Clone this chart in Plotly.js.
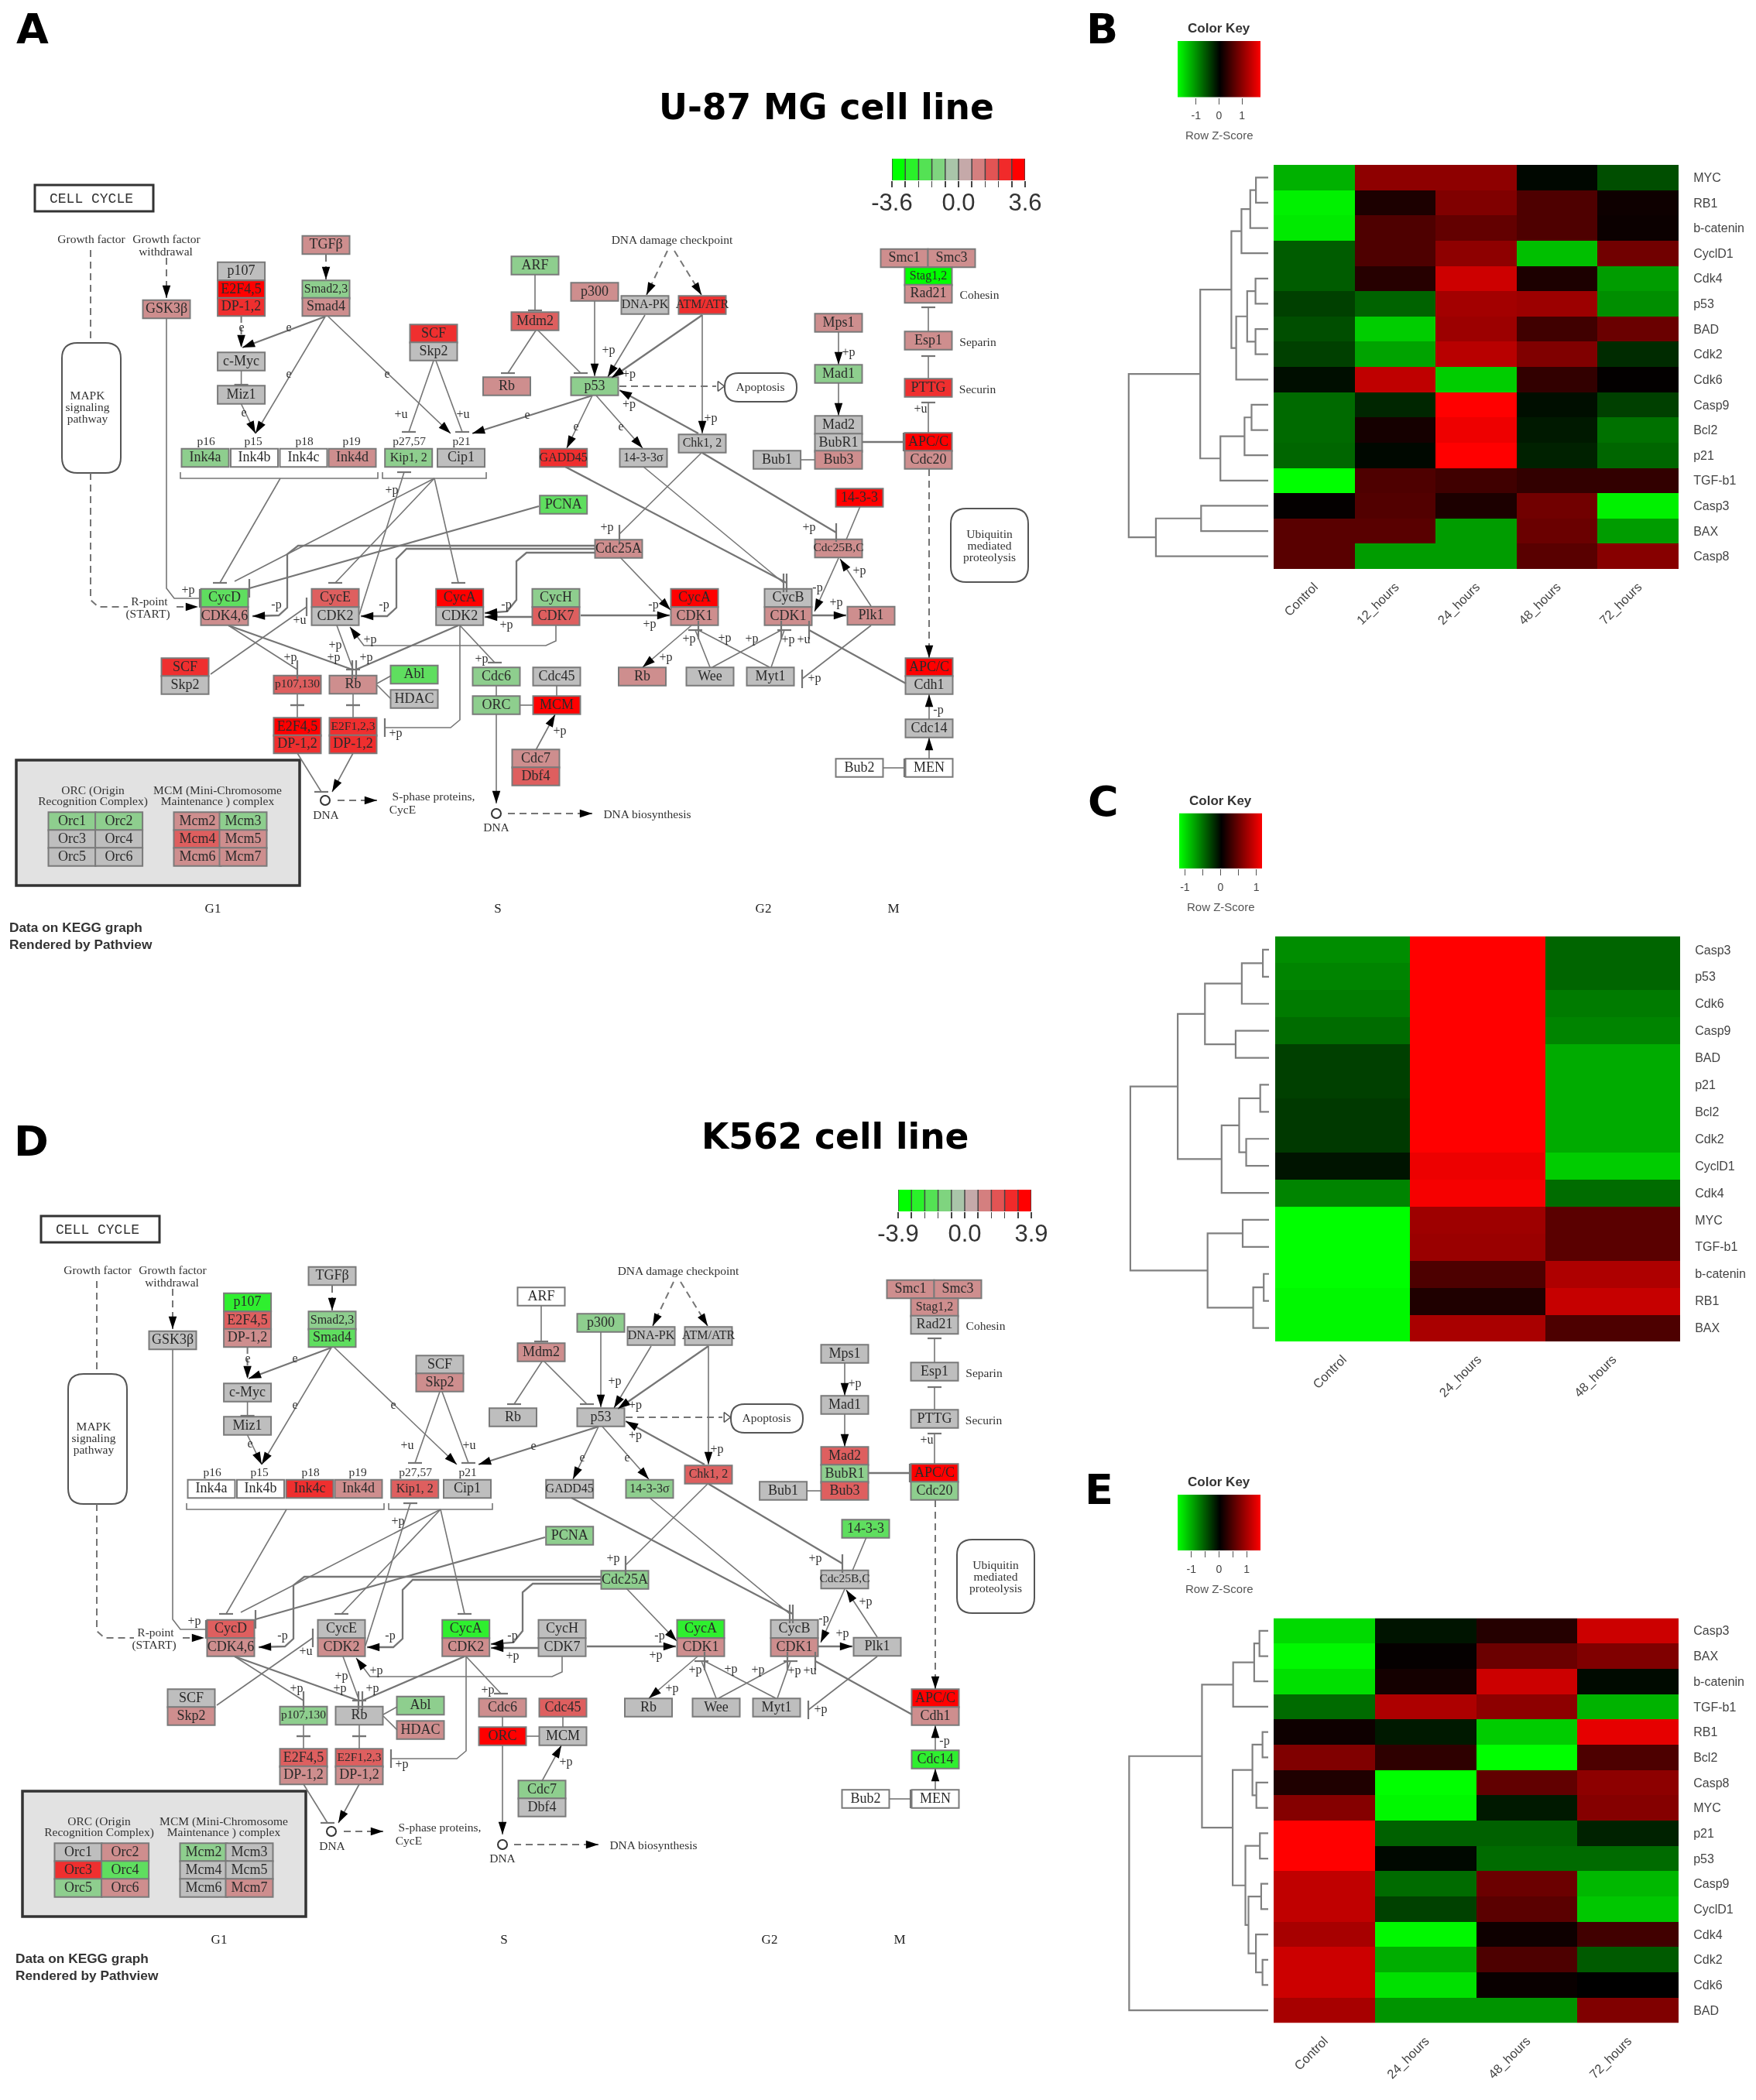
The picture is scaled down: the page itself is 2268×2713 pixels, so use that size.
<!DOCTYPE html>
<html><head><meta charset="utf-8">
<script src="https://cdn.plot.ly/plotly-3.0.1.min.js"></script>
<style>html,body{margin:0;padding:0;background:#fff}#plot{width:2268px;height:2713px;filter:blur(0.7px)}</style>
</head><body><div id="plot"></div>
<script>
/* ---------- heatmap data (row z-scores) ---------- */
const colsB=["Control","12_hours","24_hours","48_hours","72_hours"];
const rowsB=["MYC","RB1","b-catenin","CyclD1","Cdk4","p53","BAD","Cdk2","Cdk6","Casp9","Bcl2","p21","TGF-b1","Casp3","BAX","Casp8"];
const zB=[[-1.25,1.0,1.0,-0.05,-0.55],[-1.7,0.2,0.9,0.55,0.1],[-1.65,0.55,0.7,0.55,0.08],[-0.65,0.55,1.0,-1.35,0.8],
[-0.65,0.27,1.45,0.2,-1.1],[-0.45,-0.7,1.15,1.1,-1.0],[-0.55,-1.45,1.1,0.45,0.75],[-0.45,-1.15,1.3,0.9,-0.3],
[-0.1,1.35,-1.45,0.35,0.02],[-0.75,-0.27,1.8,-0.1,-0.45],[-0.75,0.15,1.68,-0.18,-0.8],[-0.72,-0.06,1.8,-0.23,-0.72],
[-1.8,0.55,0.45,0.35,0.35],[0.03,0.58,0.2,0.8,-1.7],[0.63,0.63,-1.1,0.75,-1.1],[0.63,-1.1,-1.1,0.63,0.95]];
const treeB=[[-1,-2,28],[1,-3,41],[2,-4,61],[-5,-6,29],[-7,-8,29],[4,5,48],[6,-9,73],[3,7,84],[-10,-11,38],[9,-12,54],[10,-13,109],[8,11,155],[-14,-15,153],[13,-16,256],[12,14,318]];

const colsC=["Control","24_hours","48_hours"];
const rowsC=["Casp3","p53","Cdk6","Casp9","BAD","p21","Bcl2","Cdk2","CyclD1","Cdk4","MYC","TGF-b1","b-catenin","RB1","BAX"];
const zC=[[-0.64,1.16,-0.46],[-0.6,1.16,-0.46],[-0.56,1.16,-0.56],[-0.49,1.16,-0.6],[-0.29,1.16,-0.78],[-0.29,1.16,-0.78],[-0.26,1.16,-0.78],[-0.26,1.16,-0.78],
[-0.09,1.08,-0.93],[-0.6,1.12,-0.49],[-1.16,0.72,0.41],[-1.16,0.7,0.41],[-1.16,0.35,0.79],[-1.13,0.14,0.9],[-1.13,0.77,0.35]];
const treeC=[[-1,-2,14],[1,-3,62],[-4,-5,76],[2,3,146],[-6,-7,20],[-8,-9,52],[5,6,68],[7,-10,108],[4,8,208],[-11,-12,60],[-13,-14,12],[11,-15,36],[10,12,140],[9,13,316]];

const colsE=["Control","24_hours","48_hours","72_hours"];
const rowsE=["Casp3","BAX","b-catenin","TGF-b1","RB1","Bcl2","Casp8","MYC","p21","p53","Casp9","CyclD1","Cdk4","Cdk2","Cdk6","BAD"];
const zE=[[-1.28,-0.12,0.22,1.2],[-1.46,0.03,0.63,0.75],[-1.32,0.12,1.2,-0.06],[-0.63,1.02,0.83,-1.05],[0.08,-0.15,-1.2,1.35],[0.75,0.27,-1.5,0.45],
[0.18,-1.5,0.57,0.83],[0.78,-1.46,-0.15,0.78],[1.5,-0.57,-0.57,-0.2],[1.5,-0.05,-0.63,-0.63],[1.13,-0.63,0.63,-1.08],[1.13,-0.38,0.53,-1.17],
[0.98,-1.46,0.08,0.38],[1.2,-1.02,0.45,-0.53],[1.2,-1.32,0.05,0],[0.98,-0.87,-0.87,0.75]];
const treeE=[[-1,-2,20],[1,-3,32],[2,-4,80],[-5,-6,13],[-7,-8,27],[4,5,36],[-9,-10,19],[-11,-12,16],[-14,-15,13],[-13,9,28],[8,10,45],[7,11,52],[6,12,81],[3,13,151],[14,-16,317]];

/* ---------- KEGG cell-cycle graph: node table, shared by panels A and D ---------- */
const nodeNames=["TGFβ","p107","E2F4,5","DP-1,2","Smad2,3","Smad4","GSK3β","ARF","p300","DNA-PK","ATM/ATR","Mdm2","SCF","Skp2","c-Myc","Miz1","Rb","p53","Mps1","Mad1","Mad2","BubR1","Bub3","Bub1","Smc1","Smc3","Stag1,2","Rad21","Esp1","PTTG","APC/C","Cdc20","Ink4a","Ink4b","Ink4c","Ink4d","Kip1, 2","Cip1","GADD45","14-3-3σ","Chk1, 2","PCNA","14-3-3","Cdc25A","Cdc25B,C","CycD","CDK4,6","CycE","CDK2","CycA","CDK2","CycH","CDK7","CycA","CDK1","CycB","CDK1","Plk1","SCF","Skp2","p107,130","Rb","Abl","HDAC","Cdc6","Cdc45","ORC","MCM","Rb","Wee","Myt1","APC/C","Cdh1","E2F4,5","DP-1,2","E2F1,2,3","DP-1,2","Cdc14","Cdc7","Dbf4","Bub2","MEN",
"Orc1","Orc2","Orc3","Orc4","Orc5","Orc6","Mcm2","Mcm3","Mcm4","Mcm5","Mcm6","Mcm7"];
const nodeX=[421,311.6,311.6,311.6,421,421,215,691,768,833,907,691,560,560,311.6,311.6,654.5,768,1083,1083,1083,1083,1083,1003.6,1168,1229,1199,1199,1199,1199,1199,1199,265,328.5,392,455,527.7,595.5,727.7,831,907,727.7,1110,799,1083,290,290,433,433,593.7,593.7,718,718,897,897,1018,1018,1125,239,239,384,456,535,535,641,719,641,719,829.5,917,995,1200,1200,384,384,456,456,1200,692,692,1110,1200,
93,153.6,93,153.6,93,153.6,255,314,255,314,255,314];
const nodeY=[316.5,350.5,374,396.5,374,396.5,399.5,343,377,394,394,415,431,454,467,510,499,499,417,483,549,572,594,594,333.5,333.5,357,379.5,440,501,571,594,591.5,591.5,591.5,591.5,591.5,591.5,591.5,591.5,573,652,643,709,708.5,772.5,796,772.5,796,772.5,796,772.5,796,772.5,796,772.5,796,795.5,862,885,884.5,884.5,871.5,903,874,874,911,911,874,874,874,862,885,939,961.5,939,961.5,941,980,1003,992,992,
1061,1061,1084,1084,1107,1107,1061,1061,1084,1084,1107,1107];
/* expression level of every node: -4 bright green ... 0 grey ... 4 bright red, null = no data (white) */
const levelsA=[1,0,4,3,-1,1,1,-1,1,0,3,2,3,0,0,0,1,-1,1,-1,0,0,1,0,1,1,-4,1,1,3,4,1,-1,null,null,1,-1,0,3,0,0,-2,4,1,1,-2,1,2,0,4,0,-1,2,4,1,0,1,1,3,0,2,1,-2,0,-1,0,-1,4,1,0,0,4,0,4,3,3,3,0,1,2,null,null,
-1,-1,0,0,0,0,1,-1,2,1,1,1];
const levelsD=[0,-3,2,1,-1,-2,0,null,-1,0,0,1,0,1,0,0,0,0,0,0,2,-1,2,0,1,1,1,0,0,0,4,-1,null,null,3,1,2,0,0,-1,2,-1,-2,-1,0,2,1,0,1,-3,1,0,0,-3,1,0,1,0,0,1,-1,0,-1,1,1,2,4,0,0,0,0,4,1,2,1,2,1,-3,-1,0,null,null,
0,1,3,-2,-1,1,-1,0,0,0,0,1];
const levelColors={"-4":"#00FF00","-3":"#2FEF2F","-2":"#5FDE5F","-1":"#8ECE8E","0":"#BEBEBE","1":"#CE8E8E","2":"#DE5F5F","3":"#EF2F2F","4":"#FF0000"};

/* labels on the graph */
const edgeLabels=["+p","+p","+p","+p","+p","+u","+u","+p","+p","+p","+u","+p","-p","+u","-p","-p","+p","+p","+p","+p","+p","+p","+p","+p","-p","+p","+p","-p","+p","+p","+p","+p","+p","+u","+p","+p","-p","+p","e","e","e","e","e","e","e","e"];
const edgeLabelX=[786,812.5,812.5,918,1096,518,598,506,784,1045,1189,243,357,387,496,654,654,478,433,431,375,473,622,511,844,839,1080,1056,1110,890,936,971,1018,1038,860,1052,1212,723,373,373,500,312,315,681,744,802];
const edgeLabelY=[453,484,523,541,456,536,536,634,682,682,529,763,782,802,782,782,808,827,834,850,850,850,852,948,782,807,778.5,760,738,826,825,826,827,827,850,877,918,945,424,484,484,424,534,537,552,552];
const noteTexts=["Growth factor","Growth factor","withdrawal","DNA damage checkpoint","Cohesin","Separin","Securin","Apoptosis","MAPK","signaling","pathway","Ubiquitin","mediated","proteolysis","R-point","(START)","p16","p15","p18","p19","p27,57","p21","ORC (Origin","Recognition Complex)","MCM (Mini-Chromosome","Maintenance ) complex","DNA","DNA","S-phase proteins,","CycE","DNA biosynthesis"];
const noteX=[118,215,214,868,1265,1263,1262.5,982,113,113,113,1278,1278,1278,193,191,266,327,393,454,528.6,596,120,120,281,281,421,641,560,520,836];
const noteY=[310,310,326,311,382,443,504,501,512,527,542,691,706,721,778.5,794,571,571,571,571,571,571,1022,1036,1022,1036,1054,1070,1030,1047,1053];
const phaseNames=["G1","S","G2","M"];
const phaseX=[275,643,986,1154];

/* edges of the graph (x0,y0,x1,y1,...) */
const thinArrows=[[768,389,768,486],[833,407,785,487],[907,407,907,560],[765,511,732,579],[770,511,830,579],[420,409,330,560],[424,409,582,560],[1083,429,1083,471],[1083,495,1083,537],[801,720,866,788],[1083,721,1052,790],[1125,783,1085,722],[893,808,830,862],[456,973,429,1023],[641,923,641,1038],[692,969,717,923],[1200,929,1200,897],[1200,980,1200,953],[718,808,718,828,705,834,470,834,452,810],[311.6,522,330,560]];
const thickArrows=[[907,407,790,488],[902,560,800,504],[765,511,610,560],[420,409,313,449],[768,705,385,705,371,716,371,785,360,795,326,796],[768,709,525,709,512,722,512,785,500,796,466,796],[768,714,680,714,667,725,667,775,655,790,626,792],[688,797,626,797],[750,795,865,795],[1049,795,1093,795]];
const dashArrows=[[215,333,215,385],[228,784,256,784],[421,329,421,361],[862,324,835,381],[871,324,906,381],[311.6,408,311.6,449],[1200,606,1200,850],[436,1034,487,1034],[656,1051,765,1051]];
const thinBars=[[691,355,691,401],[692,427,656,482],[695,427,750,482],[311.6,479,311.6,497],[560,466,528,558],[563,466,597,558],[1199,428,1199,397],[1199,489,1199,460],[1199,559,1199,520],[362,618,284,753],[561,618,433,753],[561,618,592,753],[464,794,522,610],[831,603,1012,753],[906,585,800,690],[295,808,384,865],[435,808,456,865],[594,808,639,856],[594,808,594,930,582,940,497,940],[272,871,396,784],[384,897,384,911],[384,927,384,911],[456,897,456,911],[456,927,456,911],[384,973,415,1023],[1141,992,1168,992],[917,862,898,814],[994,862,902,814],[920,862,1009,814],[996,862,1013,814],[1125,808,1036,877],[215,411,215,760,225,773,258,773]];
const thickBars=[[1114,571,1167,571],[696,654,322,760],[730,603,1016,753],[907,585,1080,688],[295,808,455,865],[592,808,460,865],[1170,883,1045,814]];
const thinLines=[[1111,654,1093,697],[487,883,505,873],[487,885,505,903],[1034,594,1052,594],[641,886,641,899],[672,911,688,911],[719,886,719,899],[561,618,303,751]];
const dashLines=[[117,323,117,443],[117,611,117,775,127,784,165,784],[800,499,925,499]];
const brackets=[[233,610,233,618,488,618,488,610],[494,610,494,618,628,618,628,610]];

/* ---------- colour keys ---------- */
const legendBinsA=[-3.24,-2.52,-1.8,-1.08,-0.36,0.36,1.08,1.8,2.52,3.24];
const legendEdgesA=[-3.6,-2.88,-2.16,-1.44,-0.72,0,0.72,1.44,2.16,2.88,3.6];
const legendLabelsA=["-3.6","","","","","0.0","","","","","3.6"];
const legendBinsD=[-3.51,-2.73,-1.95,-1.17,-0.39,0.39,1.17,1.95,2.73,3.51];
const legendEdgesD=[-3.9,-3.12,-2.34,-1.56,-0.78,0,0.78,1.56,2.34,3.12,3.9];
const legendLabelsD=["-3.9","","","","","0.0","","","","","3.9"];
const keyStopsB=[-1.8,0,1.8], keyTicksB=[-1,0,1], keyTickTextB=["-1","0","1"];
const keyStopsC=[-1.16,0,1.16], keyTicksC=[-1,-0.5,0,0.5,1], keyTickTextC=["-1","","0","","1"];
const keyStopsE=[-1.5,0,1.5], keyTicksE=[-1,-0.5,0,0.5,1], keyTickTextE=["-1","","0","","1"];

/* ---------- page frame ---------- */
const W=2268,H=2713;
const GM=[[0,"#00FF00"],[0.5,"#000000"],[1,"#FF0000"]];
const GGR=[[0,"#00FF00"],[0.5,"#BEBEBE"],[1,"#FF0000"]];
const SERIF="Liberation Serif", SANS="Liberation Sans", BOLD="DejaVu Sans";
const data=[],shapes=[],annotations=[];
const layout={width:W,height:H,margin:{l:0,r:0,t:0,b:0},paper_bgcolor:"#fff",plot_bgcolor:"rgba(0,0,0,0)",showlegend:false,shapes,annotations};
let axisCount=0;
function axes(x0,x1,top,bottom,xo,yo){
  axisCount++;const n=axisCount===1?"":axisCount;
  const hidden={visible:false,fixedrange:true,showgrid:false,zeroline:false};
  layout["xaxis"+n]=Object.assign({},hidden,{domain:[x0/W,x1/W],anchor:"y"+n},xo);
  layout["yaxis"+n]=Object.assign({},hidden,{domain:[1-bottom/H,1-top/H],anchor:"x"+n},yo);
  return {x:"x"+n,y:"y"+n};
}
function note(text,x,y,size,opts){
  annotations.push(Object.assign({text,x:x/W,y:1-y/H,xref:"paper",yref:"paper",showarrow:false,xanchor:"center",yanchor:"middle",
    font:{family:SANS,size,color:"#333"}},opts||{}));
}
/* long names are squeezed into their box, as in the KEGG graph */
const labelSize=nodeNames.map(n=>n.length>=8?15.5:n.length===7?16:n==="GADD45"||n==="DNA-PK"?16:18);

/* ---------- pathway panel ---------- */
function pathway(ox,oy,levels,legendBins,legendEdges,legendLabels,zm){
  const a=axes(ox,ox+1400,oy,oy+1300,{range:[0,1400]},{range:[1300,0]});
  const s=(o)=>shapes.push(Object.assign({xref:a.x,yref:a.y,layer:"below"},o));
  const rrect=(x0,y0,x1,y1,r)=>`M${x0+r},${y0} L${x1-r},${y0} Q${x1},${y0} ${x1},${y0+r} L${x1},${y1-r} Q${x1},${y1} ${x1-r},${y1} L${x0+r},${y1} Q${x0},${y1} ${x0},${y1-r} L${x0},${y0+r} Q${x0},${y0} ${x0+r},${y0} Z`;
  s({type:"rect",x0:21,x1:387,y0:982,y1:1144,fillcolor:"#E2E2E2",line:{color:"#333",width:3.5}});
  s({type:"rect",x0:45,x1:198,y0:239,y1:273,fillcolor:"#fff",line:{color:"#333",width:3}});
  s({type:"path",path:rrect(80,443,156,611,20),fillcolor:"#fff",line:{color:"#555",width:2}});
  s({type:"path",path:rrect(1228,657,1328,752,20),fillcolor:"#fff",line:{color:"#555",width:2}});
  s({type:"path",path:rrect(936,482,1029,519,18),fillcolor:"#fff",line:{color:"#555",width:2}});
  nodeNames.forEach((nm,i)=>{
    const lv=levels[i];
    s({type:"rect",x0:nodeX[i]-30.5,x1:nodeX[i]+30.5,y0:nodeY[i]-11.7,y1:nodeY[i]+11.7,
       fillcolor:lv===null?"#FFFFFF":levelColors[String(lv)],line:{color:"#7A7A7A",width:2}});
  });
  const lineTrace=(paths,width,dash)=>{
    const xs=[],ys=[];
    paths.forEach(p=>{for(let k=0;k<p.length;k+=2){xs.push(p[k]);ys.push(p[k+1]);}xs.push(null);ys.push(null);});
    data.push({type:"scatter",mode:"lines",x:xs,y:ys,xaxis:a.x,yaxis:a.y,hoverinfo:"skip",line:{color:"#757575",width,dash:dash||"solid"}});
  };
  lineTrace(thinArrows.concat(thinBars,thinLines,brackets),1.6);
  lineTrace(thickArrows.concat(thickBars),2.3);
  lineTrace(dashArrows.concat(dashLines),2,"9px,6px");
  const ax=[],ay=[],ang=[];
  thinArrows.concat(thickArrows,dashArrows).forEach(p=>{
    const n=p.length,dx=p[n-2]-p[n-4],dy=p[n-1]-p[n-3];
    ax.push(p[n-2]);ay.push(p[n-1]);ang.push(Math.atan2(dx,-dy)*180/Math.PI);
  });
  data.push({type:"scatter",mode:"markers",x:ax,y:ay,xaxis:a.x,yaxis:a.y,hoverinfo:"skip",
    marker:{symbol:"arrow",size:17,angle:ang,color:"#000",line:{width:0}}});
  const bars=[];
  thinBars.concat(thickBars).forEach(p=>{
    const n=p.length,x=p[n-2],y=p[n-1],dx=Math.abs(p[n-2]-p[n-4]),dy=Math.abs(p[n-1]-p[n-3]);
    bars.push(dy>=dx?[x-9,y,x+9,y]:[x,y-12,x,y+12]);
  });
  lineTrace(bars,2.2);
  data.push({type:"scatter",mode:"markers",x:[930],y:[499],xaxis:a.x,yaxis:a.y,hoverinfo:"skip",
    marker:{symbol:"triangle-right-open",size:11,color:"#555",line:{width:1.5,color:"#555"}}});
  data.push({type:"scatter",mode:"markers",x:[420,641],y:[1034,1051],xaxis:a.x,yaxis:a.y,hoverinfo:"skip",
    marker:{symbol:"circle-open",size:12,color:"#333",line:{width:2,color:"#333"}}});
  const txt=(x,y,t,size,family,color,pos)=>data.push({type:"scatter",mode:"text",x,y,text:t,xaxis:a.x,yaxis:a.y,hoverinfo:"skip",cliponaxis:false,
    textposition:pos||"middle center",textfont:{family,size,color}});
  txt(nodeX,nodeY,nodeNames,labelSize,SERIF,"#2A2A2A");
  txt(edgeLabelX,edgeLabelY,edgeLabels,16,SERIF,"#333");
  txt(noteX,noteY,noteTexts,15.5,SERIF,"#333");
  txt(phaseX,phaseX.map(()=>1175),phaseNames,17,SERIF,"#222");
  txt([118],[257],["CELL CYCLE"],18,"Liberation Mono","#333");
  annotations.push({text:"<b>Data on KEGG graph</b><br><b>Rendered by Pathview</b>",x:10,y:1209,xref:a.x,yref:a.y,showarrow:false,xanchor:"left",yanchor:"middle",align:"left",
    font:{family:SANS,size:17.3,color:"#333"}});
  const b=axes(ox+1152,ox+1324,oy+205,oy+233,
    {visible:true,range:[-zm,zm],tickmode:"array",tickvals:legendEdges,ticktext:legendLabels,ticks:"outside",ticklen:8,tickcolor:"#444",tickwidth:1.5,
     showline:false,tickfont:{family:SANS,size:31,color:"#333"},ticklabelstandoff:-7},
    {range:[0,1]});
  data.push({type:"heatmap",x:legendBins,y:[0,1],z:[legendBins,legendBins],zmin:legendBins[0],zmax:legendBins[9],colorscale:GGR,showscale:false,hoverinfo:"skip",
    xaxis:b.x,yaxis:b.y});
  const lx=[],ly=[];
  legendEdges.forEach(e=>{lx.push(e,e,null);ly.push(0,1,null);});
  data.push({type:"scatter",mode:"lines",x:lx,y:ly,xaxis:b.x,yaxis:b.y,hoverinfo:"skip",cliponaxis:false,line:{color:"#444",width:1.5}});
}
pathway(0,0,levelsA,legendBinsA,legendEdgesA,legendLabelsA,3.6);
pathway(8,1332,levelsD,legendBinsD,legendEdgesD,legendLabelsD,3.9);

/* ---------- heatmap panel ---------- */
function heatPanel(cols,rows,z,tree,zm,hx0,hx1,top,bottom,leafX,key){
  const h=axes(hx0,hx1,top,bottom,
    {visible:true,type:"category",side:"bottom",ticks:"outside",ticklen:6,tickcolor:"rgba(0,0,0,0)",tickangle:-45,showline:false,
     tickfont:{family:SANS,size:16.5,color:"#444"}},
    {visible:true,type:"category",autorange:"reversed",side:"right",ticks:"outside",ticklen:15,tickcolor:"rgba(0,0,0,0)",showline:false,
     tickfont:{family:SANS,size:16,color:"#444"}});
  data.push({type:"heatmap",x:cols,y:rows,z,zmin:-zm,zmax:zm,colorscale:GM,showscale:false,hoverinfo:"skip",xaxis:h.x,yaxis:h.y});
  const d=axes(leafX-187,leafX,top,bottom,{range:[330,0]},{range:[rows.length-0.5,-0.5]});
  const pos=tree.map(()=>null),xs=[],ys=[];
  const at=c=>c<0?{y:-c-1,h:0}:pos[c-1];
  tree.forEach((m,i)=>{
    const a=at(m[0]),b=at(m[1]);
    xs.push(a.h,m[2],m[2],b.h,null);ys.push(a.y,a.y,b.y,b.y,null);
    pos[i]={y:(a.y+b.y)/2,h:m[2]};
  });
  data.push({type:"scatter",mode:"lines",x:xs,y:ys,xaxis:d.x,yaxis:d.y,hoverinfo:"skip",line:{color:"#808080",width:2.2}});
  const k=axes(key.x0,key.x1,key.top,key.bottom,
    {visible:true,range:[-zm,zm],tickmode:"array",tickvals:key.ticks,ticktext:key.text,ticks:"outside",ticklen:8,tickcolor:"#555",showline:false,
     ticklabelstandoff:3,tickfont:{family:SANS,size:14,color:"#444"}},{range:[0,1]});
  data.push({type:"heatmap",x:key.stops,y:[0,1],z:[key.stops,key.stops],zmin:-zm,zmax:zm,colorscale:GM,zsmooth:"best",showscale:false,hoverinfo:"skip",xaxis:k.x,yaxis:k.y});
  const cx=(key.x0+key.x1)/2;
  note("<b>Color Key</b>",cx,key.top-16,17,{font:{family:SANS,size:17,color:"#333"}});
  note("Row Z-Score",cx,key.bottom+49,15,{font:{family:SANS,size:15,color:"#555"}});
}
heatPanel(colsB,rowsB,zB,treeB,1.8,1645,2168,213,735,1638,{x0:1521,x1:1628,top:53,bottom:125.5,stops:keyStopsB,ticks:keyTicksB,text:keyTickTextB});
heatPanel(colsC,rowsC,zC,treeC,1.16,1647,2170,1209.5,1733,1639,{x0:1523,x1:1630,top:1050.5,bottom:1122,stops:keyStopsC,ticks:keyTicksC,text:keyTickTextC});
heatPanel(colsE,rowsE,zE,treeE,1.5,1645,2168,2090.5,2613.5,1638,{x0:1521,x1:1628,top:1931,bottom:2003,stops:keyStopsE,ticks:keyTicksE,text:keyTickTextE});

/* ---------- titles and panel letters ---------- */
const big=(t,x,y,s)=>note("<b>"+t+"</b>",x,y,s,{font:{family:BOLD,size:s,color:"#000"}});
big("A",42,38,54);big("B",1423,38,54);big("C",1425,1035,54);big("D",40,1474,54);big("E",1419,1924,54);
big("U-87 MG cell line",1067,138,45.5);big("K562 cell line",1078,1468,45.5);

Plotly.newPlot("plot",data,layout,{staticPlot:true,displayModeBar:false});
</script></body></html>
